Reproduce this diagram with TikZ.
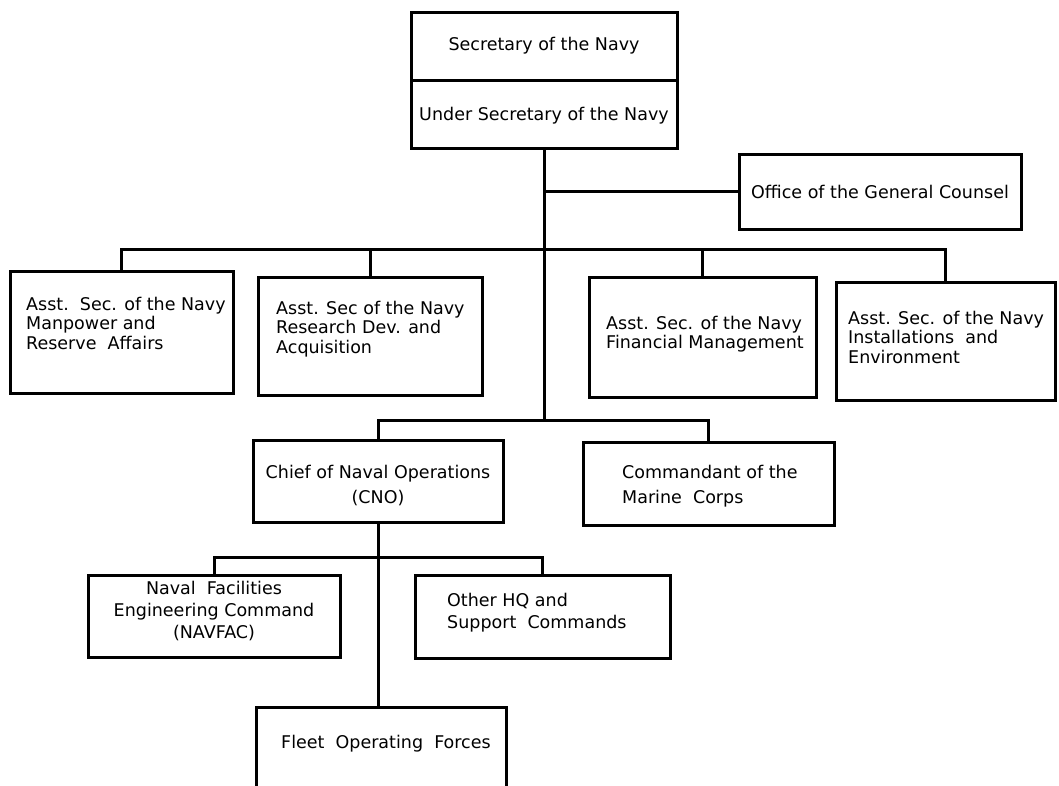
\documentclass[tikz,border=0pt]{standalone}
\usepackage{fontspec}
\setmainfont{DejaVu Sans}
\usetikzlibrary{fit}
\begin{document}
\begin{tikzpicture}[x=1pt,y=-1pt,
  box/.style={draw, line width=3pt, inner sep=0pt},
  conn/.style={line width=3pt},
  txt/.style={inner sep=0pt, font=\fontsize{17.5}{19.5}\selectfont, align=left},
  txtw/.style={inner sep=0pt, font=\fontsize{17.5}{25}\selectfont},
  txtm/.style={inner sep=0pt, font=\fontsize{17.5}{22}\selectfont},
]
\useasboundingbox (0,0) rectangle (1059,786);
\clip (0,0) rectangle (1059,786);

% boxes
\node[box, fit={(411,13) (677,81)}] (sec) {};
\node[box, fit={(411,81) (677,149)}] (usec) {};
\node[box, fit={(739,155) (1021,230)}] (gc) {};
\node[box, fit={(10,271) (233,393)}] (a1) {};
\node[box, fit={(258,277) (482,395)}] (a2) {};
\node[box, fit={(589,277) (816,397)}] (a3) {};
\node[box, fit={(836,282) (1055,400)}] (a4) {};
\node[box, fit={(253,440) (503,522)}] (cno) {};
\node[box, fit={(583,442) (834,525)}] (cmc) {};
\node[box, fit={(88,575) (340,657)}] (nf) {};
\node[box, fit={(415,575) (670,658)}] (hq) {};
\node[box, fit={(256,707) (506,820)}] (fleet) {};

% junctions
\coordinate (j1) at (544,192);
\coordinate (j2) at (544,249);
\coordinate (j3) at (544,420);
\coordinate (j4) at (378,557);

% connectors
\draw[conn] (usec.south) -- (j3);
\draw[conn] (j1) -- (gc.west |- j1);
\draw[conn] (a1.north) |- (j2) -| (a4.north);
\draw[conn] (a2.north) -- (a2.north |- j2);
\draw[conn] (a3.north) -- (a3.north |- j2);
\draw[conn] (cno.north) |- (j3) -| (cmc.north);
\draw[conn] (cno.south) -- (cno.south |- fleet.north);
\draw[conn] (nf.north) |- (j4) -| (hq.north);

% texts
\node[txt, anchor=base] (tsec) at (544,51) {Secretary of the Navy};
\node[txt, anchor=base] (tusec) at (544,121) {Under Secretary of the Navy};
\node[txt, anchor=base] (tgc) at (880,199) {Office of the General Counsel};
\node[txt, anchor=north west] (ta1) at (26,297) {Asst.\ \ Sec. of the Navy\\Manpower and\\Reserve\ \ Affairs};
\node[txt, anchor=north west] (ta2) at (276,301) {Asst. Sec of the Navy\\Research Dev. and\\Acquisition};
\node[txt, anchor=north west] (ta3) at (606,316) {Asst. Sec. of the Navy\\Financial Management};
\node[txt, anchor=north west] (ta4) at (848,311) {Asst. Sec. of the Navy\\Installations\ \ and\\Environment};
\node[txtw, anchor=north, align=center] (tcno) at (378,465) {Chief of Naval Operations\\(CNO)};
\node[txtw, anchor=north west, align=left] (tcmc) at (622,465) {Commandant of the\\Marine\ \ Corps};
\node[txtm, anchor=north, align=center] (tnf) at (214,581) {Naval\ \ Facilities\\Engineering Command\\(NAVFAC)};
\node[txtm, anchor=north west, align=left] (thq) at (447,593) {Other HQ and\\Support\ \ Commands};
\node[txt, anchor=base west] (tfl) at (281,748) {Fleet\ \ Operating\ \ Forces};
\end{tikzpicture}
\end{document}
